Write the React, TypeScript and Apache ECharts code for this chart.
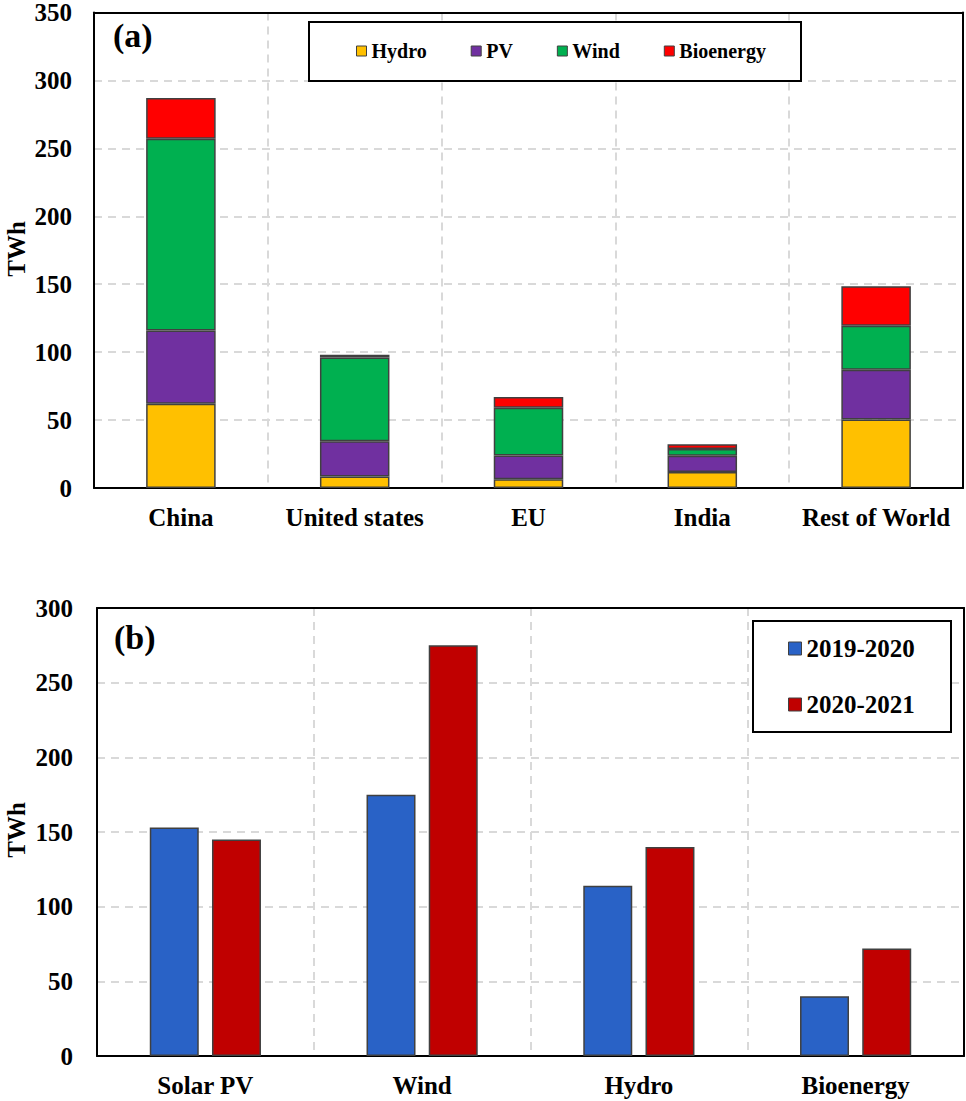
import React, { useEffect, useRef } from "react";
import * as echarts from "echarts";

const categoriesA = ["China", "United states", "EU", "India", "Rest of World"];
const hydro = [62, 8.5, 6.5, 11.7, 50.5];
const pv = [54, 26, 17.5, 12, 36.5];
const wind = [141, 61.5, 35, 5, 32.5];
const bio = [30, 2, 8, 3.5, 29];

const categoriesB = ["Solar PV", "Wind", "Hydro", "Bioenergy"];
const p2019 = [153, 175, 114, 40];
const p2020 = [145, 275, 140, 72];

const FONT = "'Liberation Serif', 'Times New Roman', serif";

export default function App() {
  const ref = useRef<HTMLDivElement>(null);
  useEffect(() => {
    if (!ref.current) return;
    const chart = echarts.init(ref.current, undefined, { renderer: "svg" });
    const grid = "#d9d9d9";
    const split = { show: true, lineStyle: { color: grid, width: 2, type: [8, 6] as any } };
    const axisLabel = (margin: number) => ({
      color: "#000",
      fontFamily: FONT,
      fontWeight: "bold" as const,
      fontSize: 25,
      margin,
    });
    const frameLine = { show: true, onZero: false, lineStyle: { color: "#000", width: 2 } };
    const frameAxis = {
      axisLine: frameLine,
      axisTick: { show: false },
      axisLabel: { show: false },
      splitLine: { show: false },
    };
    const barStyle = (c: string) => ({ color: c, borderColor: "#404040", borderWidth: 1.5 });
    chart.setOption({
      animation: false,
      backgroundColor: "#fff",
      grid: [
        { left: 94, top: 10, width: 869, height: 478 },
        { left: 97, top: 608, width: 867, height: 448 },
      ],
      xAxis: [
        {
          type: "category",
          gridIndex: 0,
          data: categoriesA,
          axisLine: { lineStyle: { color: "#000", width: 2 } },
          axisTick: { show: false },
          axisLabel: { ...axisLabel(17), interval: 0 },
          splitLine: { ...split, interval: 0 },
        },
        {
          type: "category",
          gridIndex: 1,
          data: categoriesB,
          axisLine: { lineStyle: { color: "#000", width: 2 } },
          axisTick: { show: false },
          axisLabel: { ...axisLabel(17), interval: 0 },
          splitLine: { ...split, interval: 0 },
        },
        { type: "category", gridIndex: 0, position: "top", data: categoriesA, ...frameAxis },
        { type: "category", gridIndex: 1, position: "top", data: categoriesB, ...frameAxis },
      ],
      yAxis: [
        {
          type: "value",
          gridIndex: 0,
          min: 0,
          max: 350,
          interval: 50,
          axisLine: { show: true, lineStyle: { color: "#000", width: 2 } },
          axisTick: { show: false },
          axisLabel: axisLabel(22),
          splitLine: split,
        },
        {
          type: "value",
          gridIndex: 1,
          min: 0,
          max: 300,
          interval: 50,
          axisLine: { show: true, lineStyle: { color: "#000", width: 2 } },
          axisTick: { show: false },
          axisLabel: axisLabel(24),
          splitLine: split,
        },
        { type: "value", gridIndex: 0, position: "right", min: 0, max: 350, interval: 50, ...frameAxis },
        { type: "value", gridIndex: 1, position: "right", min: 0, max: 300, interval: 50, ...frameAxis },
      ],
      legend: [
        {
          data: ["Hydro", "PV", "Wind", "Bioenergy"],
          left: 356,
          top: 41,
          padding: 0,
          z: 20,
          icon: "rect",
          itemWidth: 10,
          itemHeight: 10,
          itemGap: 44,
          itemStyle: { borderColor: "#404040", borderWidth: 1 },
          textStyle: { color: "#000", fontFamily: FONT, fontWeight: "bold", fontSize: 20, lineHeight: 20 },
        },
        {
          data: ["2019-2020", "2020-2021"],
          orient: "vertical",
          left: 788,
          top: 636,
          padding: 0,
          z: 20,
          icon: "rect",
          itemWidth: 13,
          itemHeight: 13,
          itemGap: 31,
          itemStyle: { borderColor: "#404040", borderWidth: 1 },
          textStyle: { color: "#000", fontFamily: FONT, fontWeight: "bold", fontSize: 25, lineHeight: 25 },
        },
      ],
      graphic: [
        { type: "rect", z: 1, shape: { x: 309, y: 22, width: 492, height: 59 }, style: { fill: "#fff", stroke: "#000", lineWidth: 2 } },
        { type: "rect", z: 1, shape: { x: 753, y: 621, width: 198, height: 111 }, style: { fill: "#fff", stroke: "#000", lineWidth: 2 } },
        { type: "text", x: 113, y: 35, z: 10, style: { text: "(a)", fontFamily: FONT, fontWeight: "bold", fontSize: 34, fill: "#000", verticalAlign: "middle", align: "left" } },
        { type: "text", x: 114, y: 637, z: 10, style: { text: "(b)", fontFamily: FONT, fontWeight: "bold", fontSize: 34, fill: "#000", verticalAlign: "middle", align: "left" } },
        { type: "text", x: 16, y: 249, rotation: Math.PI / 2, z: 10, style: { text: "TWh", fontFamily: FONT, fontWeight: "bold", fontSize: 25, fill: "#000", verticalAlign: "middle", align: "center" } },
        { type: "text", x: 16, y: 830, rotation: Math.PI / 2, z: 10, style: { text: "TWh", fontFamily: FONT, fontWeight: "bold", fontSize: 25, fill: "#000", verticalAlign: "middle", align: "center" } },
      ],
      series: [
        { name: "Hydro", type: "bar", stack: "a", xAxisIndex: 0, yAxisIndex: 0, data: hydro, barWidth: "40%", itemStyle: barStyle("#FFC000") },
        { name: "PV", type: "bar", stack: "a", xAxisIndex: 0, yAxisIndex: 0, data: pv, barWidth: "40%", itemStyle: barStyle("#7030A0") },
        { name: "Wind", type: "bar", stack: "a", xAxisIndex: 0, yAxisIndex: 0, data: wind, barWidth: "40%", itemStyle: barStyle("#00B050") },
        { name: "Bioenergy", type: "bar", stack: "a", xAxisIndex: 0, yAxisIndex: 0, data: bio, barWidth: "40%", itemStyle: barStyle("#FF0000") },
        { name: "2019-2020", type: "bar", xAxisIndex: 1, yAxisIndex: 1, data: p2019, barWidth: "22.6%", barGap: "27%", itemStyle: barStyle("#2962C6") },
        { name: "2020-2021", type: "bar", xAxisIndex: 1, yAxisIndex: 1, data: p2020, barWidth: "22.6%", barGap: "27%", itemStyle: barStyle("#C00000") },
      ],
    });
    return () => chart.dispose();
  }, []);
  return <div ref={ref} style={{ position: "absolute", left: 0, top: 0, width: 966, height: 1101 }} />;
}
